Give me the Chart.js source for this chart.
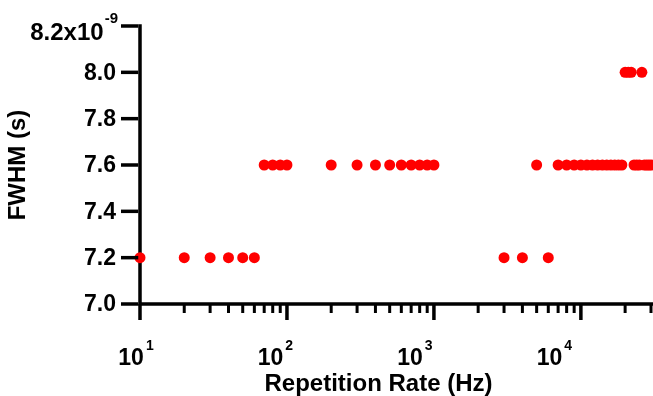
<!DOCTYPE html>
<html>
<head>
<meta charset="utf-8">
<script src="https://cdn.jsdelivr.net/npm/chart.js@4.4.1/dist/chart.umd.min.js"></script>
<style>
  body { margin: 0; background: #fff; }
  canvas { display: block; }
</style>
</head>
<body>
<canvas id="grafico" width="653" height="396"></canvas>
<script>
// repetition rate (Hz) and measured FWHM (s), one entry per dot
const repRate = [
  10, 20, 30, 40, 50, 60,
  70, 80, 90, 100, 200, 300, 400, 500, 600, 700, 800, 900, 1000,
  3000, 4000, 5000, 6000,
  7000, 8000, 9000, 10000, 11000, 12000, 13000, 14000, 15000, 16000, 17000, 18000, 19000,
  20000, 21000, 22000, 23000, 24000, 25000, 26000, 27000, 28000, 29000, 30000
];
const fwhm = [
  7.2e-9, 7.2e-9, 7.2e-9, 7.2e-9, 7.2e-9, 7.2e-9,
  7.6e-9, 7.6e-9, 7.6e-9, 7.6e-9, 7.6e-9, 7.6e-9, 7.6e-9, 7.6e-9, 7.6e-9, 7.6e-9, 7.6e-9, 7.6e-9, 7.6e-9,
  7.2e-9, 7.2e-9, 7.6e-9, 7.2e-9,
  7.6e-9, 7.6e-9, 7.6e-9, 7.6e-9, 7.6e-9, 7.6e-9, 7.6e-9, 7.6e-9, 7.6e-9, 7.6e-9, 7.6e-9, 7.6e-9, 7.6e-9,
  8.0e-9, 8.0e-9, 8.0e-9, 7.6e-9, 7.6e-9, 7.6e-9, 8.0e-9, 7.6e-9, 7.6e-9, 7.6e-9, 7.6e-9
];

const yTicks = [7.0e-9, 7.2e-9, 7.4e-9, 7.6e-9, 7.8e-9, 8.0e-9, 8.2e-9];
const yTickLabels = ['7.0', '7.2', '7.4', '7.6', '7.8', '8.0', '8.2x10'];
const yExponent = '-9';
const xMajor = [10, 100, 1000, 10000];
const xMajorExp = ['1', '2', '3', '4'];
const xMinor = [20, 30, 40, 50, 60, 70, 80, 90, 200, 300, 400, 500, 600, 700, 800, 900,
  2000, 3000, 4000, 5000, 6000, 7000, 8000, 9000, 20000, 30000];

const FONT = '"Liberation Sans", Arial, sans-serif';

// axis lines go under the dots
const linhas = {
  id: 'linhas',
  beforeDatasetsDraw(chart) {
    const { ctx, chartArea: a, scales: { x, y } } = chart;
    const y0 = y.getPixelForValue(yTicks[0]);
    const yTop = y.getPixelForValue(yTicks[yTicks.length - 1]);
    const x0 = x.getPixelForValue(xMajor[0]);
    ctx.save();
    ctx.strokeStyle = '#000';
    ctx.lineWidth = 3.5;
    ctx.beginPath();
    ctx.moveTo(x0, yTop - 1.75);
    ctx.lineTo(x0, y0);
    ctx.lineTo(a.right + 2, y0);
    ctx.stroke();
    ctx.restore();
  }
};

// ticks and labels
const eixos = {
  id: 'eixos',
  afterDraw(chart) {
    const { ctx, chartArea: a, scales: { x, y } } = chart;
    const y0 = y.getPixelForValue(yTicks[0]);
    const x0 = x.getPixelForValue(xMajor[0]);
    ctx.save();
    ctx.strokeStyle = '#000';
    ctx.fillStyle = '#000';

    ctx.lineWidth = 3.5;
    xMajor.forEach(v => {
      const px = x.getPixelForValue(v);
      ctx.beginPath();
      ctx.moveTo(px, y0);
      ctx.lineTo(px, y0 + 16);
      ctx.stroke();
    });
    ctx.lineWidth = 3;
    xMinor.forEach(v => {
      const px = x.getPixelForValue(v);
      ctx.beginPath();
      ctx.moveTo(px, y0);
      ctx.lineTo(px, y0 + 9);
      ctx.stroke();
    });

    ctx.lineWidth = 3.5;
    yTicks.forEach(v => {
      const py = y.getPixelForValue(v);
      ctx.beginPath();
      ctx.moveTo(x0 - 19, py);
      ctx.lineTo(x0 - 1.75, py);
      ctx.stroke();
    });

    // y labels
    ctx.textAlign = 'right';
    yTicks.forEach((v, i) => {
      const py = y.getPixelForValue(v);
      if (i === yTicks.length - 1) {
        ctx.font = 'bold 15px ' + FONT;
        ctx.textBaseline = 'alphabetic';
        ctx.fillText(yExponent, 118, py - 3);
        const w = ctx.measureText(yExponent).width;
        ctx.font = 'bold 24px ' + FONT;
        ctx.textBaseline = 'middle';
        ctx.fillText(yTickLabels[i], 118 - w - 1, py + 7);
      } else {
        ctx.font = 'bold 23px ' + FONT;
        ctx.textBaseline = 'middle';
        ctx.fillText(yTickLabels[i], 116, py + 1);
      }
    });

    // x labels (placed a bit tighter than the ticks, like the original)
    ctx.textAlign = 'left';
    ctx.textBaseline = 'alphabetic';
    xMajor.forEach((v, i) => {
      const px = x.getPixelForValue(v);
      const cx = a.left - 4 + (px - a.left) * 0.949;
      ctx.font = 'bold 23px ' + FONT;
      const w1 = ctx.measureText('10').width;
      ctx.font = 'bold 14px ' + FONT;
      const w2 = ctx.measureText(xMajorExp[i]).width;
      const sx = cx - (w1 + 2 + w2) / 2;
      ctx.font = 'bold 23px ' + FONT;
      ctx.fillText('10', sx, 365);
      ctx.font = 'bold 14px ' + FONT;
      ctx.fillText(xMajorExp[i], sx + w1 + 2, 350);
    });

    // titles
    ctx.font = 'bold 24px ' + FONT;
    ctx.textAlign = 'center';
    ctx.fillText('Repetition Rate (Hz)', a.left - 4 + (a.width / 2) * 0.949, 391);

    ctx.translate(18, 165);
    ctx.rotate(-Math.PI / 2);
    ctx.textBaseline = 'middle';
    ctx.fillText('FWHM (s)', 0, 0);
    ctx.restore();
  }
};

new Chart(document.getElementById('grafico'), {
  type: 'scatter',
  data: {
    datasets: [{
      label: 'FWHM',
      data: repRate.map((r, i) => ({ x: r, y: fwhm[i] })),
      backgroundColor: '#ff0000',
      borderWidth: 0,
      pointRadius: 5.5,
      pointHoverRadius: 5.5,
      clip: false
    }]
  },
  options: {
    responsive: false,
    animation: false,
    events: [],
    layout: { autoPadding: false, padding: { left: 140, right: 2, top: 26, bottom: 92 } },
    plugins: { legend: { display: false }, tooltip: { enabled: false } },
    scales: {
      x: { type: 'logarithmic', min: 10, max: 30000, display: false },
      y: { type: 'linear', min: 7.0e-9, max: 8.2e-9, display: false }
    }
  },
  plugins: [linhas, eixos]
});
</script>
</body>
</html>
